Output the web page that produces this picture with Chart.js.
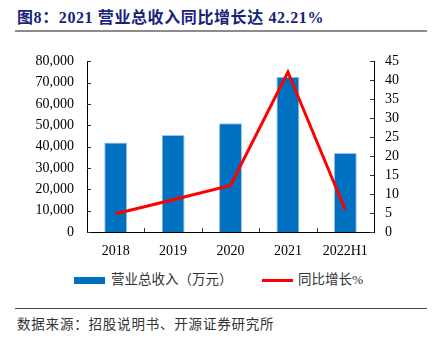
<!DOCTYPE html>
<html>
<head>
<meta charset="utf-8">
<script src="https://cdn.jsdelivr.net/npm/chart.js@4"></script>
<style>
  html, body { margin: 0; padding: 0; background: #fff; }
  body { width: 432px; height: 342px; position: relative; overflow: hidden;
         font-family: "Liberation Serif", "Noto Sans CJK SC", serif; }
  #title { position: absolute; left: 17px; top: 4px; font-size: 16px; font-weight: bold;
           letter-spacing: 0.6px; color: #1a237a; white-space: nowrap; }
  #titleRule { position: absolute; left: 15px; top: 30px; width: 412px; height: 2px; background: #8c8c8c; }
  #wrap { position: absolute; left: 0; top: 40px; width: 432px; height: 225px; }
  #legend { position: absolute; top: 271px; left: 0; width: 432px; height: 18px; font-size: 13.5px; color: #333; }
  .item { position: absolute; top: 0; line-height: 18px; white-space: nowrap; }
  .swatch { position: absolute; }
  #srcRule { position: absolute; left: 15px; top: 308px; width: 412px; height: 1px; background: #444; }
  #source { position: absolute; left: 17px; top: 313px; font-size: 13.5px; color: #333; letter-spacing: 0.8px; white-space: nowrap; }
</style>
</head>
<body>
<div id="title">图8：2021 营业总收入同比增长达 42.21%</div>
<div id="titleRule"></div>
<div id="wrap"><canvas id="chart"></canvas></div>
<div id="legend">
  <div class="swatch" style="left:74px; top:6px; width:31px; height:7px; background:#0070c0;"></div>
  <div class="item" style="left:111px;">营业总收入（万元）</div>
  <div class="swatch" style="left:262px; top:8px; width:31px; height:3px; background:#ff0000;"></div>
  <div class="item" style="left:298px;">同比增长%</div>
</div>
<div id="srcRule"></div>
<div id="source">数据来源：招股说明书、开源证券研究所</div>

<script>
const years = ['2018', '2019', '2020', '2021', '2022H1'];
const revenue = [42000, 45500, 51000, 72800, 37000];   // 万元
const growth = [4.8, 8.5, 12.3, 42.21, 5.8];           // %
const leftTicks = [0, 10000, 20000, 30000, 40000, 50000, 60000, 70000, 80000];
const rightTicks = [0, 5, 10, 15, 20, 25, 30, 35, 40, 45];

const tickFont = { family: '"Liberation Serif", serif', size: 14 };

// short tick marks drawn on the inner side of each axis
const innerTicks = {
  id: 'innerTicks',
  afterDatasetsDraw(chart) {
    const { ctx, chartArea: a, scales } = chart;
    ctx.save();
    ctx.strokeStyle = '#333';
    ctx.lineWidth = 1;
    ctx.beginPath();
    scales.y.ticks.forEach(t => {
      const py = Math.round(scales.y.getPixelForValue(t.value)) + 0.5;
      ctx.moveTo(a.left, py); ctx.lineTo(a.left + 4, py);
    });
    scales.y1.ticks.forEach(t => {
      const py = Math.round(scales.y1.getPixelForValue(t.value)) + 0.5;
      ctx.moveTo(a.right, py); ctx.lineTo(a.right - 4, py);
    });
    for (let i = 1; i < years.length; i++) {
      const px = Math.round((scales.x.getPixelForValue(i - 1) + scales.x.getPixelForValue(i)) / 2) + 0.5;
      ctx.moveTo(px, a.bottom); ctx.lineTo(px, a.bottom - 4);
    }
    ctx.stroke();
    ctx.restore();
  }
};

new Chart(document.getElementById('chart'), {
  data: {
    labels: years,
    datasets: [
      {
        type: 'line',
        label: '同比增长%',
        data: growth,
        yAxisID: 'y1',
        borderColor: '#ff0000',
        borderWidth: 3,
        pointRadius: 0,
        tension: 0,
        order: 0
      },
      {
        type: 'bar',
        label: '营业总收入（万元）',
        data: revenue,
        yAxisID: 'y',
        backgroundColor: '#0070c0',
        borderColor: '#9dc3e6',
        borderWidth: { top: 1, left: 1, right: 1, bottom: 0 },
        barPercentage: 0.4,
        categoryPercentage: 1,
        order: 1
      }
    ]
  },
  options: {
    responsive: true,
    maintainAspectRatio: false,
    animation: false,
    layout: { padding: { top: 15, left: 0, right: 0, bottom: 0 } },
    plugins: { legend: { display: false }, tooltip: { enabled: false } },
    scales: {
      x: {
        grid: { display: false, drawTicks: false },
        border: { display: true, color: '#000', width: 1 },
        ticks: { color: '#000', font: tickFont, padding: 11, autoSkip: false, maxRotation: 0 },
        afterFit(s) { s.height = 33; }
      },
      y: {
        position: 'left',
        min: 0, max: 80000,
        afterBuildTicks(s) { s.ticks = leftTicks.map(v => ({ value: v })); },
        grid: { display: false, drawTicks: false },
        border: { display: true, color: '#000', width: 1 },
        ticks: { color: '#000', font: tickFont, padding: 13, autoSkip: false,
                 callback: v => v.toLocaleString('en-US') },
        afterFit(s) { s.width = 87; }
      },
      y1: {
        position: 'right',
        min: 0, max: 45,
        afterBuildTicks(s) { s.ticks = rightTicks.map(v => ({ value: v })); },
        grid: { display: false, drawTicks: false },
        border: { display: true, color: '#000', width: 1 },
        ticks: { color: '#000', font: tickFont, padding: 11, autoSkip: false },
        afterFit(s) { s.width = 58; }
      }
    }
  },
  plugins: [innerTicks]
});
</script>
</body>
</html>
